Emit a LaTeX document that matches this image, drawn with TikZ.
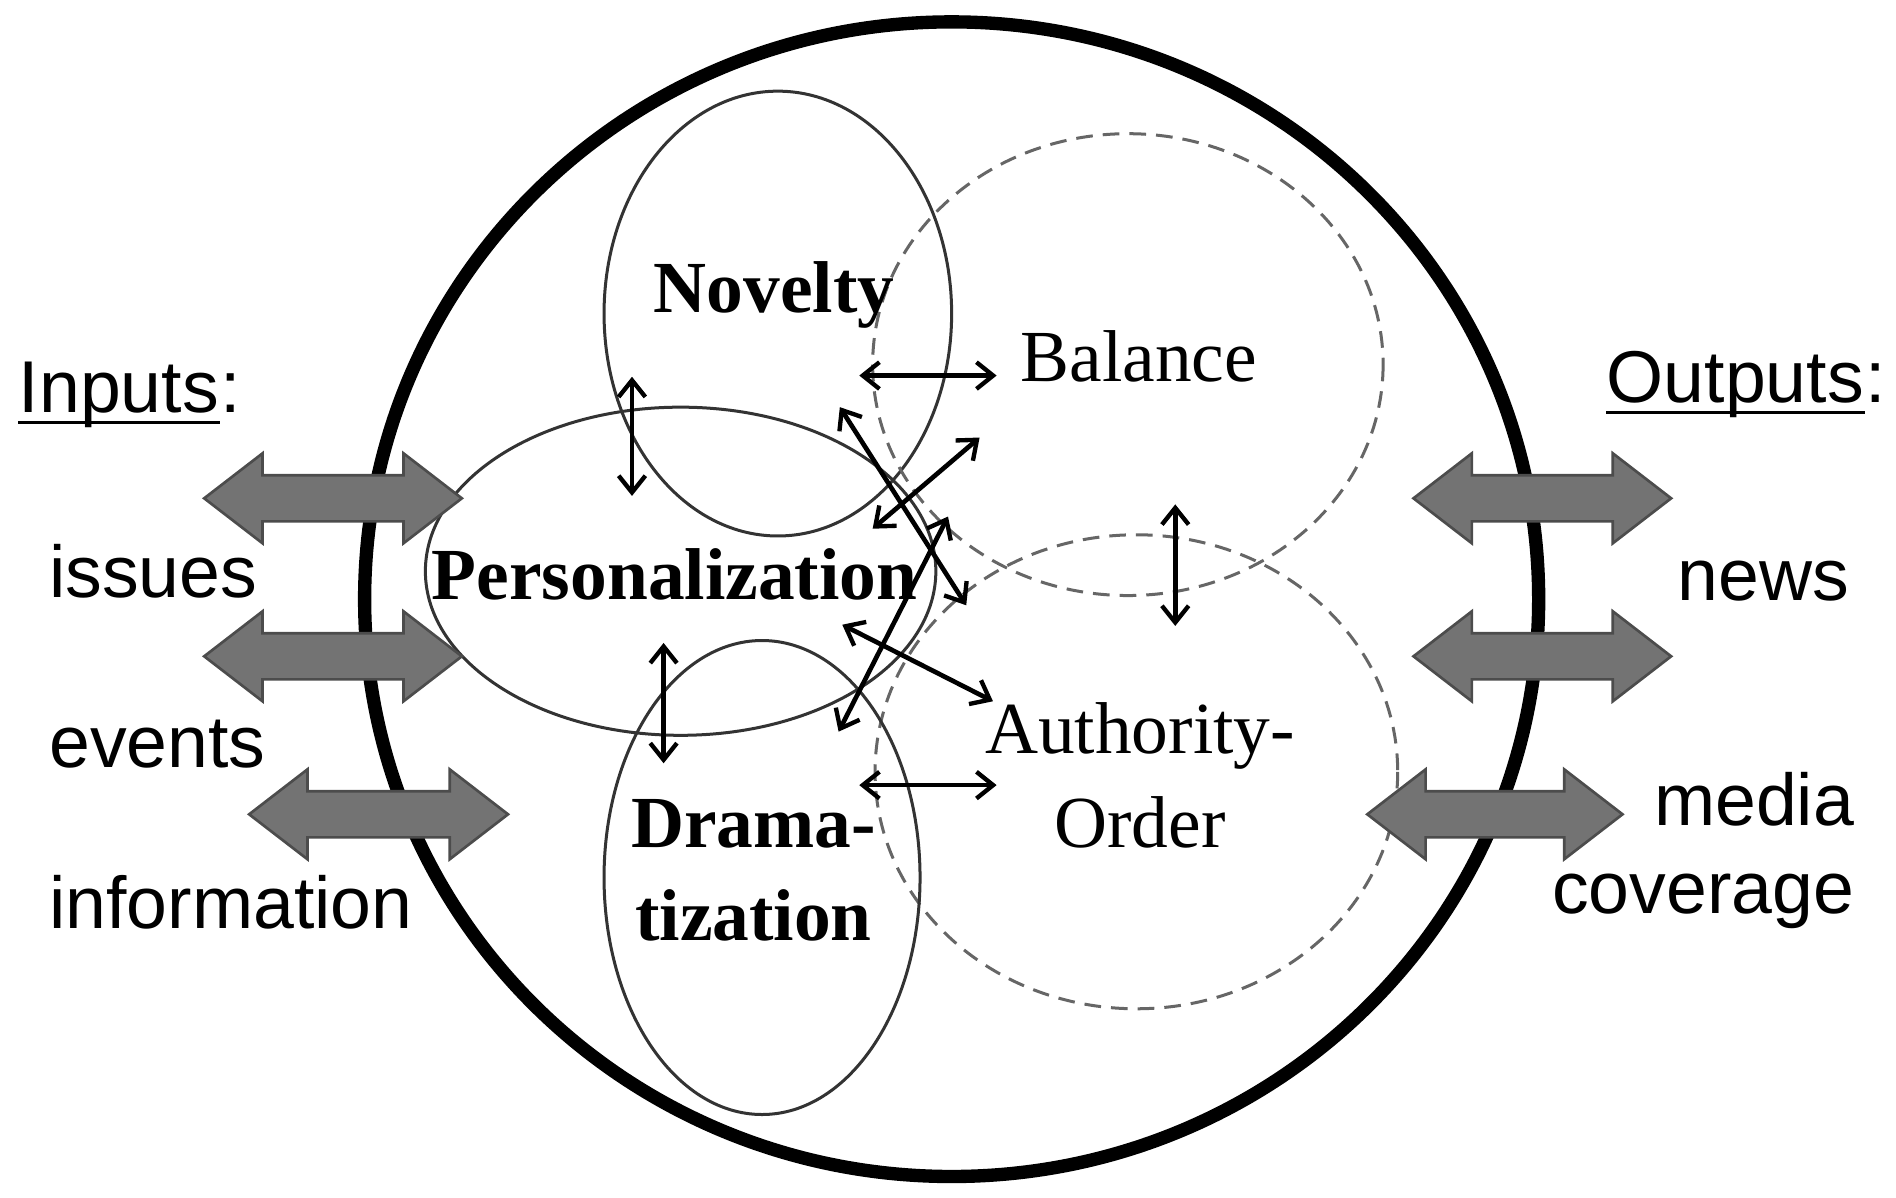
\documentclass[tikz,border=0pt]{standalone}
\usepackage{fontspec}
\usetikzlibrary{arrows.meta}
\setmainfont{Liberation Serif}
\newfontfamily\sansf{Liberation Sans}
\begin{document}
\begin{tikzpicture}[x=0.0128cm,y=-0.0128cm,
  ell/.style={draw=black!80,line width=0.9pt},
  dell/.style={draw=black!60,line width=0.9pt,dash pattern=on 5pt off 3pt},
  dbl/.style={{Straight Barb[length=5pt,width=8pt,line width=1.3pt]}-{Straight Barb[length=5pt,width=8pt,line width=1.3pt]},line width=1.4pt},
  lab/.style={font=\fontsize{22}{24}\selectfont,align=center,inner sep=0pt},
  slab/.style={font=\sansf\fontsize{22}{24}\selectfont,inner sep=0pt},
  blk/.style={fill=black!55,draw=black!70,line width=0.8pt}]
\useasboundingbox (0,0) rectangle (1560,985);
\newcommand\blockarr[3]{%
  \draw[blk] (#1,#3) -- ({#1+48},{#3-37}) -- ({#1+48},{#3-19}) -- ({#2-48},{#3-19}) -- ({#2-48},{#3-37}) -- (#2,#3) -- ({#2-48},{#3+37}) -- ({#2-48},{#3+19}) -- ({#1+48},{#3+19}) -- ({#1+48},{#3+37}) -- cycle;}
% big circle
\draw[line width=4pt] (783,493) ellipse [x radius=483, y radius=475];
% ellipses
\draw[ell] (640,258) ellipse [x radius=143, y radius=183];
\draw[dell] (928,300) ellipse [x radius=210, y radius=190];
\draw[ell] (560,470) ellipse [x radius=210, y radius=135];
\draw[dell] (935,635) ellipse [x radius=215, y radius=195];
\draw[ell] (627,722) ellipse [x radius=130, y radius=195];
% labels
\node[lab,font=\bfseries\fontsize{22}{24}\selectfont] (nov) at (637,243) {Novelty};
\node[lab] (bal) at (937,293) {Balance};
\node[lab,font=\bfseries\fontsize{22}{24}\selectfont] (per) at (555,473) {Personalization};
\node[lab,font=\fontsize{22}{28}\selectfont] (aut) at (938,638) {Authority-\\Order};
\node[lab,font=\bfseries\fontsize{22}{28}\selectfont] (dra) at (620,716) {Drama-\\tization};
% arrow endpoints
\coordinate (a1) at (707,309); \coordinate (b1) at (820,309);
\coordinate (a2) at (520,310); \coordinate (b2) at (520,408);
\coordinate (a3) at (691,335); \coordinate (b3) at (795,498);
\coordinate (a4) at (806,360); \coordinate (b4) at (718,435);
\coordinate (a5) at (780,425); \coordinate (b5) at (690,602);
\coordinate (a6) at (693,514); \coordinate (b6) at (817,577);
\coordinate (a7) at (546,529); \coordinate (b7) at (546,628);
\coordinate (a8) at (707,646); \coordinate (b8) at (820,646);
\coordinate (a9) at (967,415); \coordinate (b9) at (967,515);
\foreach \i in {1,...,9} \draw[dbl] (a\i) -- (b\i);
% block arrows
\blockarr{168}{380}{410}
\blockarr{168}{380}{540}
\blockarr{205}{418}{670}
\blockarr{1163}{1375}{410}
\blockarr{1163}{1375}{540}
\blockarr{1125}{1335}{670}
% side texts
\node[slab,anchor=west] (inp) at (15,325) {Inputs};
\node[slab,anchor=base west] (inpc) at (inp.base east) {:};
\draw[line width=1pt] ([yshift=-3pt]inp.base west) -- ([yshift=-3pt]inp.base east);
\node[slab,anchor=west] (iss) at (40,470) {issues};
\node[slab,anchor=west] (evt) at (40,612) {events};
\node[slab,anchor=west] (inf) at (40,742) {information};
\node[slab,anchor=east] (outc) at (1552,315) {:};
\node[slab,anchor=base east] (out) at (outc.base west) {Outputs};
\draw[line width=1pt] ([yshift=-3pt]out.base west) -- ([yshift=-3pt]out.base east);
\node[slab,anchor=east] (nws) at (1522,478) {news};
\node[slab,anchor=east] (med) at (1526,658) {media};
\node[slab,anchor=east] (cov) at (1526,742) {coverage};
\end{tikzpicture}
\end{document}
